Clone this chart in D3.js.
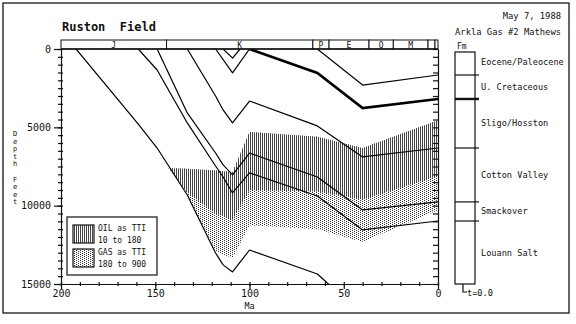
<!DOCTYPE html>
<html><head><meta charset="utf-8">
<script src="https://cdn.jsdelivr.net/npm/d3@7"></script>
<style>
body{margin:0;background:#fff}
svg{display:block}
text{font-family:"DejaVu Sans Mono","Liberation Mono",monospace;fill:#111;white-space:pre}
</style>
</head><body>
<svg id="c" width="576" height="324"></svg>
<script>
// ---------- data (age Ma, depth ft) ----------
const basementLine   = [[192,0],[159,4790],[149,6320],[133,9320],[118,13020],[114,13780],[109,14230],[100,12830],[64,14360],[40,16970],[0,17300]];
const louannTop      = [[159,0],[149,1340],[133,4720],[118,7470],[114,8170],[109,9190],[100,7910],[64,9380],[40,11550],[0,10980]];
const smackoverTop   = [[149,0],[133,4080],[118,6640],[114,7400],[109,8040],[100,6640],[64,8170],[40,10270],[0,9760]];
const cottonValleyTop= [[133,0],[118,3000],[114,3890],[109,4720],[100,3320],[64,4910],[40,6890],[0,6320]];
const sligoOuter     = [[118,0],[109,1530],[100,0]];
const sligoInner     = [[114,0],[109,580],[105,0]];
const uCretBase      = [[100,0],[64,1530],[40,3770],[0,3190]];
const eoceneBase     = [[64,0],[40,2300],[0,1660]];

const tti10  = [[143,7600],[133,7650],[118,7750],[109,7850],[100,5300],[64,5600],[40,6320],[0,4550]];
const tti180 = [[143,7600],[133,9150],[118,10500],[109,10900],[100,9000],[64,9100],[40,9600],[0,8100]];
const tti900 = [[143,7600],[133,9250],[118,12900],[109,13350],[100,11250],[64,11500],[40,12300],[0,10300]];

const periodNames  = ["J","K","P","E","O","M","",""];
const periodBounds = [200,144,66.4,57.8,36.6,23.7,5.3,1.6,0];

const fmNames  = ["Eocene/Paleocene","U. Cretaceous","Sligo/Hosston","Cotton Valley","Smackover","Louann Salt"];
const fmTops   = [0,1660,3190,6320,9760,10980];
const columnBase = 15000;

const xTickLabels = [200,150,100,50,0];
const yTickLabels = [0,5000,10000,15000];
const legendLabels = [["OIL as TTI","10 to 180"],["GAS as TTI","180 to 900"]];

// ---------- drawing ----------
const svg = d3.select("#c");
const x = d3.scaleLinear().domain([200,0]).range([61,438]);
const y = d3.scaleLinear().domain([0,15000]).range([49,284]);
const line = d3.line().x(d=>x(d[0])).y(d=>y(d[1]));

const defs = svg.append("defs");
const po = defs.append("pattern").attr("id","oil").attr("patternUnits","userSpaceOnUse").attr("width",2).attr("height",2);
po.append("rect").attr("width",2).attr("height",2).attr("fill","#fff");
po.append("rect").attr("width",1).attr("height",2).attr("fill","#444");
const pg = defs.append("pattern").attr("id","gas").attr("patternUnits","userSpaceOnUse").attr("width",4).attr("height",2);
pg.append("rect").attr("width",4).attr("height",2).attr("fill","#fff");
pg.append("rect").attr("x",0).attr("y",0).attr("width",1).attr("height",1).attr("fill","#333");
pg.append("rect").attr("x",2).attr("y",1).attr("width",1).attr("height",1).attr("fill","#333");
defs.append("clipPath").attr("id","plot").append("rect")
  .attr("x",x(200)).attr("y",y(0)).attr("width",x(0)-x(200)).attr("height",y(15000)-y(0));

// outer frame
svg.append("rect").attr("x",3).attr("y",3).attr("width",566).attr("height",310)
  .attr("fill","none").attr("stroke","#333").attr("stroke-width",1.5);

// title & header
svg.append("text").attr("x",62).attr("y",31).attr("font-size",12).attr("font-weight","bold").text("Ruston  Field");
svg.append("text").attr("x",561).attr("y",19).attr("font-size",8.8).attr("text-anchor","end").text("May 7, 1988");
svg.append("text").attr("x",561).attr("y",35).attr("font-size",8.8).attr("text-anchor","end").text("Arkla Gas #2 Mathews");

const plot = svg.append("g").attr("clip-path","url(#plot)");
// shaded TTI regions
plot.append("path").attr("d", line(tti10.concat(tti900.slice().reverse()))+"Z").attr("fill","url(#gas)");
plot.append("path").attr("d", line(tti10.concat(tti180.slice().reverse()))+"Z").attr("fill","url(#oil)");

// horizons
[basementLine,louannTop,smackoverTop,cottonValleyTop,sligoOuter,sligoInner,eoceneBase].forEach(h=>{
  plot.append("path").attr("d",line(h)).attr("fill","none").attr("stroke","#000").attr("stroke-width",1.2).attr("stroke-linejoin","round");
});
plot.append("path").attr("d",line(uCretBase)).attr("fill","none").attr("stroke","#000").attr("stroke-width",2.6);

// axes
const ax = svg.append("g").attr("font-size",8);
ax.append("g").attr("transform",`translate(${x(200)},0)`)
  .call(d3.axisLeft(y).tickValues(yTickLabels).tickSize(7).tickPadding(3).tickFormat(d3.format("d")));
const lm = ax.append("g").attr("transform",`translate(${x(200)+2},0)`)
  .call(d3.axisLeft(y).tickValues(d3.range(0,15001,500)).tickSize(5).tickFormat(""));
lm.select(".domain").remove();
ax.append("g").attr("transform",`translate(${x(0)},0)`)
  .call(d3.axisLeft(y).tickValues(d3.range(0,15001,500)).tickSize(5).tickSizeOuter(0).tickFormat(""));
ax.append("g").attr("transform",`translate(0,${y(15000)})`)
  .call(d3.axisBottom(x).tickValues(xTickLabels).tickSize(5).tickSizeOuter(0).tickPadding(1).tickFormat(d3.format("d")));
const bm = ax.append("g").attr("transform",`translate(0,${y(15000)-2})`)
  .call(d3.axisBottom(x).tickValues(d3.range(200,-1,-10)).tickSize(4).tickSizeOuter(0).tickFormat(""));
bm.select(".domain").remove();
ax.selectAll("text").attr("font-family",'"DejaVu Sans Mono",monospace').attr("fill","#111");
ax.selectAll("line,path").attr("stroke","#111").attr("stroke-width",1.2);

// axis titles
svg.append("text").attr("x",x(100)).attr("y",309).attr("font-size",8.5).attr("text-anchor","middle").text("Ma");
const yl = svg.append("text").attr("font-size",7).attr("text-anchor","middle");
"Depth Feet".split("").forEach((ch,i)=>{
  if(ch!==" ") yl.append("tspan").attr("x",15).attr("y",136+i*7.6).text(ch);
});

// time scale bar
const tb = svg.append("g");
for(let i=0;i<periodNames.length;i++){
  const x0=x(periodBounds[i]), x1=x(periodBounds[i+1]);
  tb.append("rect").attr("x",x0).attr("y",40).attr("width",x1-x0).attr("height",y(0)-40)
    .attr("fill","#fff").attr("stroke","#111").attr("stroke-width",1);
  if(periodNames[i]) tb.append("text").attr("x",(x0+x1)/2).attr("y",47.5).attr("font-size",8)
    .attr("text-anchor","middle").text(periodNames[i]);
}
svg.append("line").attr("x1",x(200)).attr("x2",x(0)).attr("y1",y(0)).attr("y2",y(0)).attr("stroke","#111").attr("stroke-width",1.5);

// legend
const lg = svg.append("g");
lg.append("rect").attr("x",67).attr("y",217).attr("width",90).attr("height",58)
  .attr("fill","#fff").attr("stroke","#111").attr("stroke-width",1.2);
["oil","gas"].forEach((p,i)=>{
  lg.append("rect").attr("x",73).attr("y",225+i*24).attr("width",21).attr("height",18)
    .attr("fill",`url(#${p})`).attr("stroke","#111").attr("stroke-width",1.2);
  lg.append("text").attr("x",98).attr("y",231+i*24).attr("font-size",8).text(legendLabels[i][0]);
  lg.append("text").attr("x",98).attr("y",243+i*24).attr("font-size",8).text(legendLabels[i][1]);
});

// formation column
const cx0=455, cx1=475;
const col = svg.append("g");
col.append("text").attr("x",457).attr("y",49).attr("font-size",8).text("Fm");
col.append("rect").attr("x",cx0).attr("y",y(0)+3).attr("width",cx1-cx0).attr("height",y(columnBase)-y(0)-3)
  .attr("fill","#fff").attr("stroke","#111").attr("stroke-width",1.2);
fmTops.forEach((t,i)=>{
  if(i>0) col.append("line").attr("x1",cx0).attr("x2",cx1+4).attr("y1",y(t)).attr("y2",y(t))
    .attr("stroke","#111").attr("stroke-width", i===2?2.4:1.2);
  const next = i<fmTops.length-1?fmTops[i+1]:columnBase;
  col.append("text").attr("x",481).attr("y",(y(t)+y(next))/2+3).attr("font-size",8.6).text(fmNames[i]);
});
col.append("path").attr("d",`M463,${y(columnBase)}V292H467`).attr("fill","none").attr("stroke","#111").attr("stroke-width",1.2);
col.append("text").attr("x",467).attr("y",296).attr("font-size",8.6).text("t=0.0");
</script>
</body></html>
